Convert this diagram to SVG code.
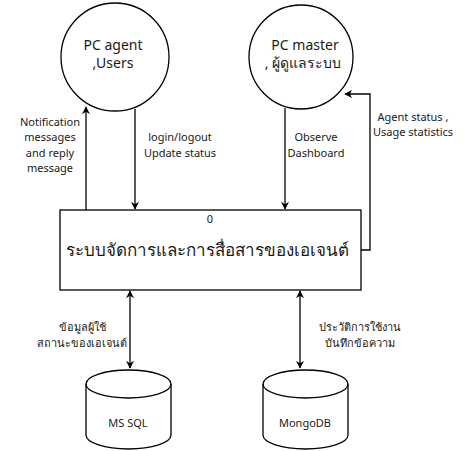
<svg xmlns="http://www.w3.org/2000/svg" width="463" height="451" viewBox="0 0 463 451">
<style>
.s{fill:#fff;stroke:#000;stroke-width:1.3}
.c{fill:none;stroke:#000;stroke-width:1.3}
text{font-family:"Noto Sans","DejaVu Sans",sans-serif;fill:#1a1a1a;text-anchor:middle}
.n{font-size:14px}
.l{font-size:11px}
</style>
<defs>
<marker id="a" viewBox="0 0 10 10" refX="9" refY="5" markerWidth="8" markerHeight="8" markerUnits="userSpaceOnUse" orient="auto-start-reverse">
<path d="M0,0 L10,5 L0,10 L3,5 Z" fill="#000"/>
</marker>
</defs>
<rect width="463" height="451" fill="#fff"/>
<g id="connectors">
<path class="c" d="M86,210 V107" marker-end="url(#a)"/>
<path class="c" d="M135,109 V209" marker-end="url(#a)"/>
<path class="c" d="M285,108 V209" marker-end="url(#a)"/>
<path class="c" d="M361,250 H370 V94 H345" marker-end="url(#a)"/>
<path class="c" d="M130,291 V368" marker-start="url(#a)" marker-end="url(#a)"/>
<path class="c" d="M300,291 V368" marker-start="url(#a)" marker-end="url(#a)"/>
<text class="l"><tspan x="50" y="126">Notification</tspan><tspan x="50" y="141">messages</tspan><tspan x="50" y="157">and reply</tspan><tspan x="50" y="172">message</tspan></text>
<text class="l"><tspan x="180" y="141">login/logout</tspan><tspan x="180" y="157">Update status</tspan></text>
<text class="l"><tspan x="316" y="141">Observe</tspan><tspan x="316" y="157">Dashboard</tspan></text>
<text class="l"><tspan x="413" y="121">Agent status ,</tspan><tspan x="413" y="136">Usage statistics</tspan></text>
<text class="l"><tspan x="82" y="331">ข้อมูลผู้ใช้</tspan><tspan x="82" y="347">สถานะของเอเจนต์</tspan></text>
<text class="l"><tspan x="360" y="331">ประวัติการใช้งาน</tspan><tspan x="360" y="347">บันทึกข้อความ</tspan></text>
</g>
<g id="pc-agent">
<circle class="s" cx="115" cy="57" r="54"/>
<text class="n"><tspan x="113" y="50">PC agent</tspan><tspan x="113" y="68">,Users</tspan></text>
</g>
<g id="pc-master">
<circle class="s" cx="301" cy="57" r="52"/>
<text class="n"><tspan x="305" y="50">PC master</tspan><tspan x="303" y="68">, ผู้ดูแลระบบ</tspan></text>
</g>
<g id="process">
<rect class="s" x="60" y="210" width="301" height="80"/>
<text class="l" x="210" y="223">0</text>
<text x="207" y="256" style="font-size:17px">ระบบจัดการและการสื่อสารของเอเจนต์</text>
</g>
<g id="mssql">
<path class="s" d="M86,384 A42.5,14 0 0 1 171,384 V435 A42.5,14 0 0 1 86,435 Z"/>
<path class="c" d="M86,384 A42.5,14 0 0 0 171,384"/>
<text class="l" x="128" y="427">MS SQL</text>
</g>
<g id="mongodb">
<path class="s" d="M263,384 A42.5,14 0 0 1 348,384 V435 A42.5,14 0 0 1 263,435 Z"/>
<path class="c" d="M263,384 A42.5,14 0 0 0 348,384"/>
<text class="l" x="305" y="427">MongoDB</text>
</g>
</svg>
